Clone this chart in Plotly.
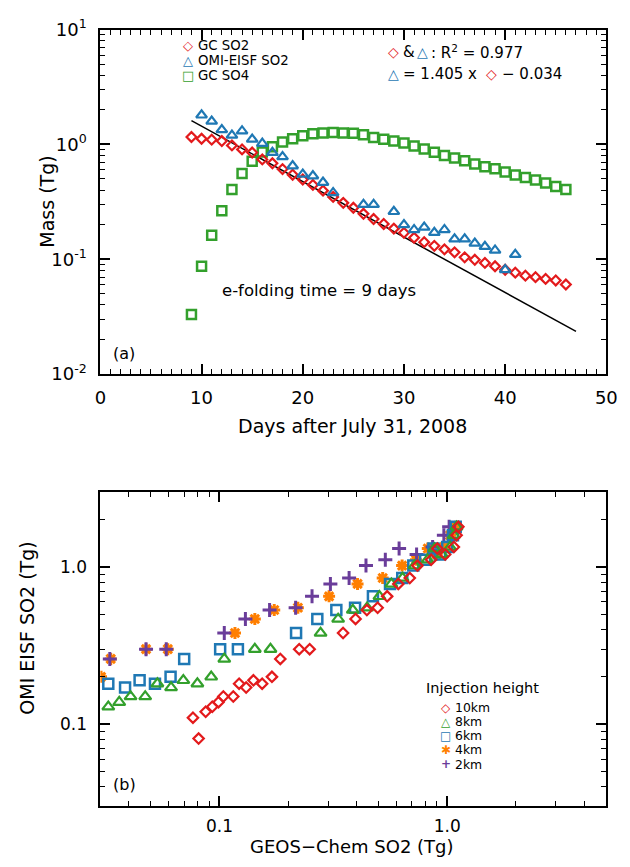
import plotly.graph_objects as go

# ---------------- Panel (a) data ----------------
days = list(range(9, 47))
gc_so2 = [1.16, 1.12, 1.10, 1.07, 0.98, 0.905, 0.85, 0.74, 0.685, 0.61,
          0.545, 0.495, 0.444, 0.396, 0.349, 0.31, 0.281, 0.249, 0.224, 0.203,
          0.185, 0.170, 0.154, 0.141, 0.131, 0.122, 0.115, 0.104, 0.099, 0.093,
          0.087, 0.081, 0.0765, 0.072, 0.0699, 0.0675, 0.0654, 0.0603]
gc_so4 = [0.033, 0.087, 0.162, 0.265, 0.405, 0.557, 0.715, 0.86, 0.956, 1.05,
          1.12, 1.19, 1.24, 1.26, 1.27, 1.26, 1.25, 1.215, 1.15, 1.11,
          1.07, 1.03, 0.968, 0.913, 0.855, 0.80, 0.761, 0.722, 0.677, 0.638,
          0.614, 0.575, 0.543, 0.515, 0.489, 0.461, 0.43, 0.405]
omi_days = [10, 11, 12, 13, 14, 15, 16, 17, 18, 19, 20, 21, 22, 23,
            26, 27, 29, 30, 31, 32, 33, 34, 35, 36, 37, 38, 39, 40, 41]
omi_so2 = [1.80, 1.59, 1.34, 1.20, 1.31, 1.11, 1.02, 0.85, 0.78, 0.65,
           0.55, 0.532, 0.467, 0.38, 0.30, 0.30, 0.26, 0.20, 0.181, 0.19,
           0.171, 0.181, 0.15, 0.15, 0.138, 0.129, 0.12, 0.081, 0.11]
fit_days = [9, 47]
fit_mass = [1.61, 0.0236]

# ---------------- Panel (b) data (x = GEOS-Chem SO2 per injection height, y = OMI) ----------------
h10_x = [gc_so2[days.index(d)] for d in omi_days]
h8_x = [1.10, 1.07, 1.03, 0.95, 0.88, 0.82, 0.72, 0.637, 0.569, 0.504,
        0.445, 0.385, 0.332, 0.278, 0.1675, 0.143, 0.105, 0.092, 0.080, 0.0694,
        0.0613, 0.0534, 0.0472, 0.0407, 0.0363, 0.0325, None, None, None]
h6_x = [1.09, 1.06, 1.00, 0.93, 0.87, 0.80, 0.71, 0.635, 0.561, 0.472,
        0.394, 0.326, 0.269, 0.217, 0.1205, 0.1007, 0.070, 0.061, 0.0521, 0.0446,
        0.0385, 0.0325, None, None, None, None, None, None, None]
h4_x = [1.09, 1.03, 0.97, 0.90, 0.822, 0.73, 0.634, 0.521, 0.404, 0.303,
        0.221, 0.174, 0.143, 0.117, 0.0593, 0.0476, 0.0333, 0.0302, None, None,
        None, None, None, None, None, None, None, None, None]
h2_x = [1.02, 0.967, 0.863, 0.734, 0.615, 0.535, 0.44, 0.371, 0.307, 0.255,
        0.216, 0.166, 0.130, 0.105, 0.0584, 0.0476, 0.033, None, None, None,
        None, None, None, None, None, None, None, None, None]

RED, BLUE, GREEN, ORANGE, PURPLE = "#e31a1c", "#1f78b4", "#33a02c", "#ff7f00", "#6a3d9a"
FONT = "DejaVu Sans"
W, H = 630, 867

def px(x):
    return x / W

def py(y):
    return 1 - y / H

fig = go.Figure()

# Panel (a)
fig.add_trace(go.Scatter(x=fit_days, y=fit_mass, mode="lines",
                         line=dict(color="black", width=1.5), xaxis="x", yaxis="y", showlegend=False))
fig.add_trace(go.Scatter(x=days, y=gc_so4, mode="markers",
                         marker=dict(symbol="square-open", size=9, color=GREEN, line=dict(width=2.5, color=GREEN)),
                         xaxis="x", yaxis="y", showlegend=False))
fig.add_trace(go.Scatter(x=days, y=gc_so2, mode="markers",
                         marker=dict(symbol="diamond-open", size=7.5, color=RED, line=dict(width=2.2, color=RED)),
                         xaxis="x", yaxis="y", showlegend=False))
fig.add_trace(go.Scatter(x=omi_days, y=omi_so2, mode="markers",
                         marker=dict(symbol="triangle-up-open", size=9.5, color=BLUE, line=dict(width=2.2, color=BLUE)),
                         xaxis="x", yaxis="y", showlegend=False))

# Panel (b)
fig.add_trace(go.Scatter(x=h4_x, y=omi_so2, mode="markers",
                         marker=dict(symbol="asterisk-open", size=10, color=ORANGE, line=dict(width=3, color=ORANGE)),
                         xaxis="x2", yaxis="y2", showlegend=False))
fig.add_trace(go.Scatter(x=h2_x, y=omi_so2, mode="markers",
                         marker=dict(symbol="cross-thin-open", size=10, color=PURPLE, line=dict(width=3, color=PURPLE)),
                         xaxis="x2", yaxis="y2", showlegend=False))
fig.add_trace(go.Scatter(x=h6_x, y=omi_so2, mode="markers",
                         marker=dict(symbol="square-open", size=10, color=BLUE, line=dict(width=2.5, color=BLUE)),
                         xaxis="x2", yaxis="y2", showlegend=False))
fig.add_trace(go.Scatter(x=h8_x, y=omi_so2, mode="markers",
                         marker=dict(symbol="triangle-up-open", size=10.5, color=GREEN, line=dict(width=2.2, color=GREEN)),
                         xaxis="x2", yaxis="y2", showlegend=False))
fig.add_trace(go.Scatter(x=h10_x, y=omi_so2, mode="markers",
                         marker=dict(symbol="diamond-open", size=8, color=RED, line=dict(width=2.2, color=RED)),
                         xaxis="x2", yaxis="y2", showlegend=False))

dec = [2, 3, 4, 5, 6, 7, 8, 9]
minor_style = dict(ticks="inside", ticklen=5, tickwidth=1.2, tickcolor="black", showgrid=False)
common = dict(showline=True, linecolor="black", linewidth=2, mirror="allticks",
              ticks="inside", ticklen=10, tickwidth=1.5, tickcolor="black",
              showgrid=False, zeroline=False,
              tickfont=dict(family=FONT, size=18, color="black"))
common_b = dict(common, tickfont=dict(family=FONT, size=17, color="black"))

fig.update_layout(
    width=W, height=H, margin=dict(l=0, r=0, t=0, b=0),
    paper_bgcolor="white", plot_bgcolor="white",
    font=dict(family=FONT, color="black"),
    xaxis=dict(domain=[px(97), px(617)], anchor="y", range=[0, 50],
               tickvals=[0, 10, 20, 30, 40, 50], ticklabelstandoff=6,
               minor=dict(dtick=1, **minor_style), **common),
    yaxis=dict(domain=[py(371), py(17)], anchor="x", type="log", range=[-2, 1],
               tickvals=[0.01, 0.1, 1, 10], ticklabelstandoff=8,
               ticktext=["10<sup>-2</sup>", "10<sup>-1</sup>", "10<sup>0</sup>", "10<sup>1</sup>"],
               minor=dict(tickvals=[m * 10 ** e for e in (-2, -1, 0) for m in dec], **minor_style),
               **common),
    xaxis2=dict(domain=[px(97), px(617)], anchor="y2", type="log", range=[-1.5229, 0.69897],
                tickvals=[0.1, 1.0], ticktext=["0.1", "1.0"], ticklabelstandoff=3,
                minor=dict(tickvals=[m * 10 ** e for e in (-2, -1, 0) for m in dec], **minor_style),
                **common_b),
    yaxis2=dict(domain=[py(815), py(492)], anchor="x2", type="log", range=[-1.5229, 0.4771],
                tickvals=[0.1, 1.0], ticktext=["0.1", "1.0"], ticklabelstandoff=8,
                minor=dict(tickvals=[m * 10 ** e for e in (-2, -1, 0) for m in dec], **minor_style),
                **common_b),
)

def ann(x, y, text, size=15, xanchor="left", angle=0, color="black", bold=False):
    if bold:
        text = "<b>" + text + "</b>"
    fig.add_annotation(xref="paper", yref="paper", x=px(x), y=py(y), text=text, showarrow=False,
                       xanchor=xanchor, yanchor="middle", textangle=angle, borderpad=0,
                       font=dict(family=FONT, size=size, color=color))

def mark(x, y, ch, color, size=13):
    ann(x, y, ch, size=size, xanchor="center", color=color, bold=True)

# Panel (a) legend
mark(187, 33, "◇", RED, 13)
ann(196, 33, "GC SO2", size=13.3)
mark(187, 48.5, "△", BLUE, 13)
ann(196, 48.5, "OMI-EISF SO2", size=13.3)
mark(187, 64, "□", GREEN, 13)
ann(196, 64, "GC SO4", size=13.3)

# Panel (a) statistics
mark(398, 40, "◇", RED, 14)
ann(407, 40, "&amp;")
mark(428, 40, "△", BLUE, 14)
ann(436, 40, ": R<sup>2</sup> = 0.977")
mark(398, 63, "△", BLUE, 14)
ann(407, 63, "= 1.405 x")
mark(499, 63, "◇", RED, 14)
ann(509, 63, "− 0.034")

ann(221, 285, "e-folding time = 9 days", size=16.5)
ann(109, 350, "(a)", size=16)
ann(356, 424, "Days after July 31, 2008", size=19, xanchor="center")
ann(42, 194, "Mass (Tg)", size=19, xanchor="center", angle=-90)

# Panel (b) legend
ann(431, 693, "Injection height", size=14.5)
mark(452, 713.5, "◇", RED, 12)
ann(460, 713.5, "10km", size=12.4)
mark(452, 728, "△", GREEN, 12)
ann(460, 728, "8km", size=12.4)
mark(452, 742.5, "□", BLUE, 12)
ann(460, 742.5, "6km", size=12.4)
mark(452, 757, "✱", ORANGE, 12)
ann(460, 757, "4km", size=12.4)
mark(452, 771.5, "+", PURPLE, 12)
ann(460, 771.5, "2km", size=12.4)

ann(109, 793, "(b)", size=16)
ann(356, 856, "GEOS−Chem SO2 (Tg)", size=18, xanchor="center")
ann(22, 632, "OMI EISF SO2 (Tg)", size=19, xanchor="center", angle=-90)

fig.write_html("out.html")
